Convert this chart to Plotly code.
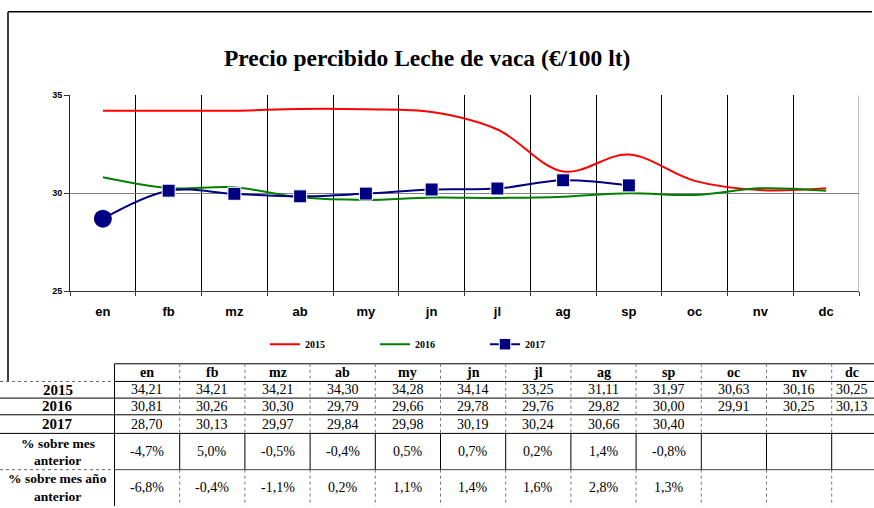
import plotly.graph_objects as go

# Monthly milk price (EUR / 100 l)
months = ["en", "fb", "mz", "ab", "my", "jn", "jl", "ag", "sp", "oc", "nv", "dc"]
price_2015 = [34.21, 34.21, 34.21, 34.30, 34.28, 34.14, 33.25, 31.11, 31.97, 30.63, 30.16, 30.25]
price_2016 = [30.81, 30.26, 30.30, 29.79, 29.66, 29.78, 29.76, 29.82, 30.00, 29.91, 30.25, 30.13]
price_2017 = [28.70, 30.13, 29.97, 29.84, 29.98, 30.19, 30.24, 30.66, 30.40]
pct_prev_month = ["-4,7%", "5,0%", "-0,5%", "-0,4%", "0,5%", "0,7%", "0,2%", "1,4%", "-0,8%"]
pct_prev_year = ["-6,8%", "-0,4%", "-1,1%", "0,2%", "1,1%", "1,4%", "1,6%", "2,8%", "1,3%"]
row_years = ["2015", "2016", "2017"]

W, H = 874, 508
SERIF = "Liberation Serif"
SANS = "Liberation Sans"


def px(x):
    return x / W


def py(y):
    return 1 - y / H


def fmt(v):
    return f"{v:.2f}".replace(".", ",")


fig = go.Figure()

fig.add_trace(go.Scatter(
    x=months, y=price_2015, name="2015", mode="lines",
    line=dict(color="#FF0000", width=2, shape="spline", smoothing=1.0),
))
fig.add_trace(go.Scatter(
    x=months, y=price_2016, name="2016", mode="lines",
    line=dict(color="#008000", width=2, shape="spline", smoothing=1.0),
))
fig.add_trace(go.Scatter(
    x=months[:len(price_2017)], y=price_2017, name="2017", mode="lines+markers",
    line=dict(color="#000080", width=2, shape="spline", smoothing=1.0),
    marker=dict(symbol="square", color="#000080", opacity=1,
                size=[0] + [13] * (len(price_2017) - 1)),
))
# January 2017 point drawn as a larger round marker
fig.add_trace(go.Scatter(
    x=months[:1], y=price_2017[:1], mode="markers", showlegend=False,
    marker=dict(symbol="circle", color="#000080", size=18, opacity=1),
))

shapes = []


def hline(y, x0, x1, color="black", width=1, dash="solid"):
    shapes.append(dict(type="line", xref="paper", yref="paper",
                       x0=px(x0), x1=px(x1), y0=py(y), y1=py(y),
                       line=dict(color=color, width=width, dash=dash)))


def vline(x, y0, y1, color="black", width=1, dash="solid"):
    shapes.append(dict(type="line", xref="paper", yref="paper",
                       x0=px(x), x1=px(x), y0=py(y0), y1=py(y1),
                       line=dict(color=color, width=width, dash=dash)))


# outer frame of the chart
hline(7, 8, 872, width=1.5)
vline(8, 7, 384, width=1.5)

# right edge of plot area
shapes.append(dict(type="line", xref="x", yref="y", x0=11.5, x1=11.5, y0=25, y1=35,
                   line=dict(color="#808080", width=1), layer="above"))

# data table grid
col0, colw = 114.5, 65.2
edges = [col0 + i * colw for i in range(13)]
rows = [366, 384, 401, 418, 437, 474, 511]
right = W

hline(rows[0], col0, right)
hline(rows[1], 0, col0, color="#666", dash="dot")
hline(rows[1], col0, right)
hline(rows[2], 0, right)
hline(rows[3], 0, right)
hline(rows[4], 0, right)
hline(rows[5], 0, col0, color="#666", dash="dot")
hline(rows[5], col0, right, color="#444")

vline(col0, rows[0], rows[6])
for e in edges[1:12]:
    vline(e, rows[0], rows[4], color="#777", dash="dot")
    vline(e, rows[4], rows[5])
    vline(e, rows[5], rows[6], color="#777", dash="dot")

annotations = []


def text(x, y, s, size, bold=False, family=SERIF):
    annotations.append(dict(
        xref="paper", yref="paper", x=px(x), y=py(y), text=s, showarrow=False,
        xanchor="center", yanchor="middle",
        font=dict(family=family, size=size, color="black",
                  weight="bold" if bold else "normal"),
    ))


# last column is only partly on the page: keep its text inside the page
centers = [min((edges[i] + edges[i + 1]) / 2, 852) for i in range(12)]
mid = [(rows[i] + rows[i + 1]) / 2 for i in range(6)]

# title
text(427, 54, "Precio percibido Leche de vaca (€/100 lt)", 23.5, bold=True)

# table header
for c, m in zip(centers, months):
    text(c, mid[0], m, 14, bold=True)

# yearly rows
lab_x = 58
for r, (year, vals) in enumerate(zip(row_years, [price_2015, price_2016, price_2017])):
    text(lab_x, mid[r + 1], year, 15, bold=True)
    for c, v in zip(centers, vals):
        text(c, mid[r + 1], fmt(v), 14)

# percentage rows
text(lab_x, mid[4] - 8, "% sobre mes", 13.5, bold=True)
text(lab_x, mid[4] + 9, "anterior", 13.5, bold=True)
text(lab_x, mid[5] - 9, "% sobre mes año", 13.5, bold=True)
text(lab_x, mid[5] + 9, "anterior", 13.5, bold=True)
for c, s in zip(centers, pct_prev_month):
    text(c, mid[4], s, 14)
for c, s in zip(centers, pct_prev_year):
    text(c, mid[5], s, 14)

fig.update_layout(
    width=W, height=H,
    margin=dict(l=0, r=0, t=0, b=0),
    paper_bgcolor="white", plot_bgcolor="white",
    shapes=shapes, annotations=annotations,
    showlegend=True,
    legend=dict(orientation="h", x=px(265), xanchor="left", y=py(346), yanchor="middle",
                font=dict(family=SERIF, size=10, color="black", weight="bold"),
                entrywidth=65, entrywidthmode="pixels", bgcolor="rgba(0,0,0,0)"),
    xaxis=dict(
        domain=[px(70), px(859)], type="category", categoryorder="array",
        categoryarray=months, range=[-0.5, 11.5], tickson="boundaries",
        showgrid=True, gridcolor="black", gridwidth=1,
        ticks="outside", ticklen=4, tickcolor="#333",
        showline=True, linecolor="#333", linewidth=1,
        tickfont=dict(family=SANS, size=13, color="black", weight="bold"),
        ticklabelstandoff=8, fixedrange=True,
    ),
    yaxis=dict(
        domain=[py(292), py(92)], range=[25, 35], dtick=5, tick0=25,
        showgrid=True, gridcolor="#808080", gridwidth=1, zeroline=False,
        ticks="outside", ticklen=5, tickcolor="#333",
        showline=True, linecolor="#222", linewidth=1,
        tickfont=dict(family=SANS, size=9, color="black", weight="bold"),
        fixedrange=True,
    ),
)

fig.write_html("out.html")
